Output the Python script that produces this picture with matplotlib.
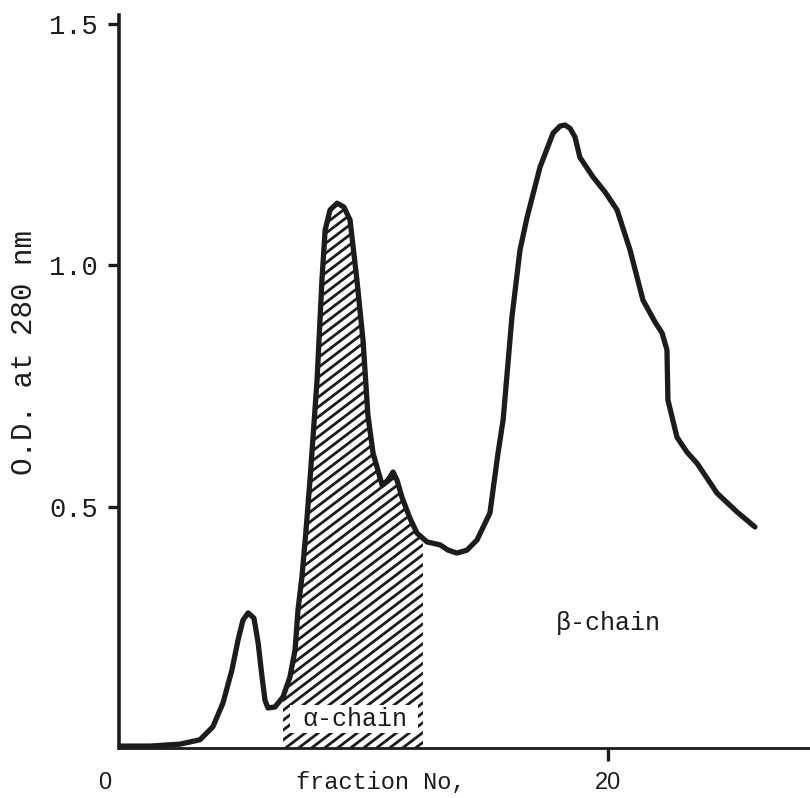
import numpy as np
import matplotlib
matplotlib.use("Agg")
import matplotlib.pyplot as plt
from matplotlib.patches import Polygon, Rectangle
from matplotlib.collections import LineCollection

# elution profile (fraction No. vs O.D. at 280 nm)
fraction = [0.04, 1.27, 2.49, 3.31, 3.84, 4.25, 4.62, 4.87, 5.07, 5.28,
            5.52, 5.69, 5.85, 5.97, 6.09, 6.38, 6.71, 6.99, 7.20, 7.32,
            7.48, 7.65, 7.81, 8.10, 8.30, 8.43, 8.63, 8.92, 9.20, 9.45,
            9.73, 9.98, 10.18, 10.39, 10.76, 11.00, 11.21, 11.37, 11.57, 11.90,
            12.19, 12.60, 13.13, 13.46, 13.82, 14.23, 14.64, 15.17, 15.50, 15.71,
            16.07, 16.40, 16.69, 17.22, 17.75, 18.04, 18.24, 18.45, 18.65, 18.85,
            19.39, 19.88, 20.37, 20.90, 21.43, 21.92, 22.21, 22.41, 22.45, 22.82,
            23.23, 23.64, 24.46, 25.28, 26.01]
od280 = [0.004, 0.004, 0.008, 0.017, 0.044, 0.093, 0.162, 0.224, 0.265, 0.280,
         0.269, 0.218, 0.147, 0.099, 0.083, 0.085, 0.106, 0.147, 0.203, 0.286,
         0.354, 0.452, 0.555, 0.762, 0.970, 1.073, 1.115, 1.129, 1.121, 1.094,
         0.970, 0.845, 0.690, 0.611, 0.545, 0.555, 0.572, 0.555, 0.520, 0.476,
         0.445, 0.427, 0.421, 0.410, 0.404, 0.410, 0.431, 0.487, 0.611, 0.680,
         0.893, 1.032, 1.100, 1.204, 1.274, 1.289, 1.291, 1.284, 1.266, 1.224,
         1.183, 1.152, 1.115, 1.032, 0.928, 0.883, 0.860, 0.825, 0.721, 0.644,
         0.613, 0.590, 0.528, 0.489, 0.458]

# pooled alpha-chain fractions (hatched)
alpha_start, alpha_end = 6.71, 12.43

yticks = [0.5, 1.0, 1.5]
ytick_labels = [f"{t:.1f}" for t in yticks]

mono = "Liberation Mono"
sans = "Liberation Sans"
ink = "#1c1c1c"

fig = plt.figure(figsize=(8.1, 7.98), dpi=100)
ax = fig.add_axes([119 / 810, 1 - 748 / 798, 691 / 810, 733 / 798])
ax.set_xlim(0, 28.26)
ax.set_ylim(0, 1.519)

for side in ["top", "right"]:
    ax.spines[side].set_visible(False)
ax.spines["left"].set_linewidth(2.6)
ax.spines["bottom"].set_linewidth(2.0)
ax.spines["left"].set_color(ink)
ax.spines["bottom"].set_color(ink)

ax.set_yticks(yticks)
ax.set_yticklabels(ytick_labels, fontfamily=mono, fontsize=19.5)
ax.tick_params(axis="y", length=8, width=2.4, pad=7, color=ink, labelcolor=ink)
ax.set_xticks([20])
ax.set_xticklabels(["20"], fontfamily=sans, fontsize=17)
ax.tick_params(axis="x", length=9, width=2.4, pad=8, color=ink, labelcolor=ink)
ax.text(-0.57, -0.072, "0", fontfamily=sans, fontsize=17, color=ink,
        ha="center", va="center", clip_on=False)

ax.set_ylabel("O.D. at 280 nm", fontfamily=mono, fontsize=21, color=ink)
ax.yaxis.set_label_coords(-0.117, (748 - 353) / 733)
ax.text(10.72, -0.072, "fraction No,", fontfamily=mono, fontsize=17, color=ink,
        ha="center", va="center", clip_on=False)

# hatched alpha-chain area under the curve
x = np.array(fraction)
y = np.array(od280)
inside = (x > alpha_start) & (x < alpha_end)
px = np.concatenate([[alpha_start], x[inside], [alpha_end]])
py = np.concatenate([[np.interp(alpha_start, x, y)], y[inside], [np.interp(alpha_end, x, y)]])
verts = [(alpha_start, 0)] + list(zip(px, py)) + [(alpha_end, 0)]
region = Polygon(verts, closed=True, facecolor="none", edgecolor="none")
ax.add_patch(region)

W, H = ax.bbox.width, ax.bbox.height
slope = 0.76
step = 13.0
segs = []
for x0 in np.arange(-H / slope, W, step):
    segs.append([(x0 / W, 0), ((x0 + H / slope) / W, 1)])
hatch = LineCollection(segs, colors=ink, linewidths=2.0, transform=ax.transAxes, zorder=2)
hatch.set_clip_path(region)
ax.add_collection(hatch)

ax.add_patch(Rectangle((6.99, 0.031), 5.24, 0.058, facecolor="white",
                       edgecolor="none", zorder=3))
ax.text(9.65, 0.060, "α-chain", fontfamily=[mono, "DejaVu Sans"], fontsize=18,
        color=ink, ha="center", va="center", zorder=4)
ax.text(20.0, 0.259, "β-chain", fontfamily=[mono, "DejaVu Sans"], fontsize=18,
        color=ink, ha="center", va="center")

ax.plot(fraction, od280, color=ink, linewidth=3.8, solid_joinstyle="round",
        solid_capstyle="round", zorder=5, clip_on=False)

fig.savefig("out.png", dpi=100)
